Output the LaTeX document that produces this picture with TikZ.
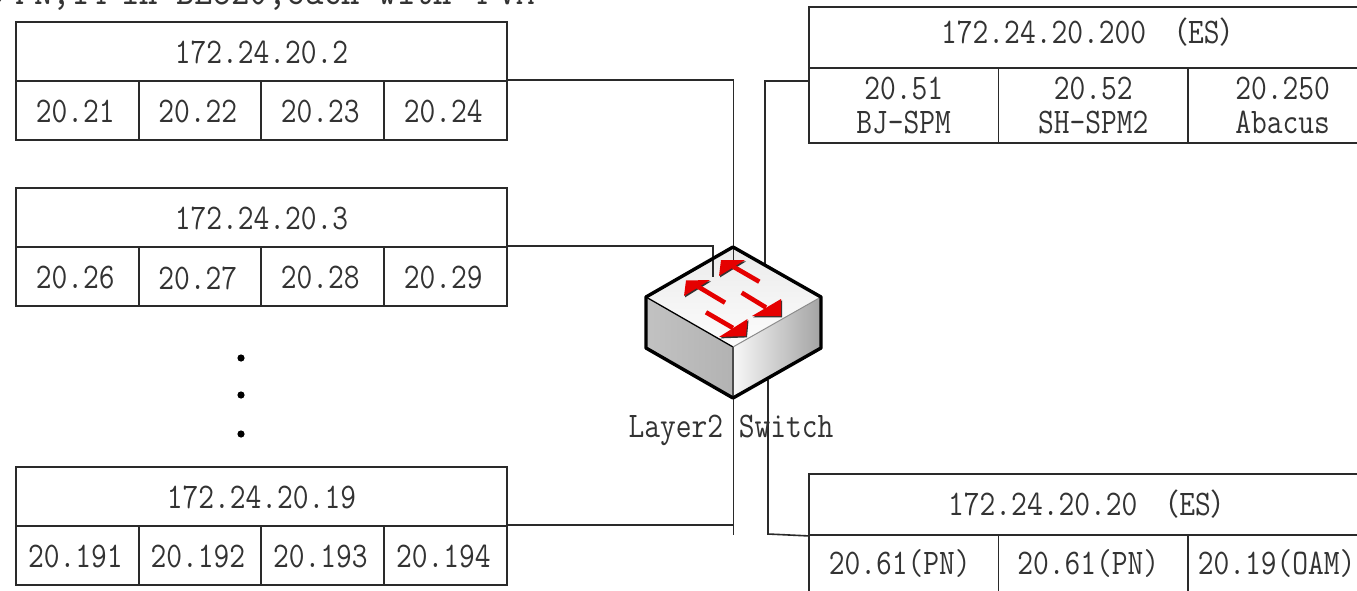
\documentclass[tikz,border=0pt]{standalone}
\usepackage{fontspec}
\newfontfamily\simf[FakeStretch=0.85]{Latin Modern Mono}
\newfontfamily\cjkf{Noto Sans CJK SC}
\usetikzlibrary{calc}
\definecolor{boxline}{HTML}{2A2A2A}
\newcommand{\wparen}[1]{{\cjkf\fontsize{30}{30}\selectfont #1}}
\newcommand{\swarr}[5]{% tail, base a, base b, tip, neck
  \fill[black!80] ($#2+(1,1.4)$) -- ($#3+(1,1.4)$) -- ($#4+(1,1.4)$) -- cycle;
  \draw[arrowshaft] #1 -- #5;
  \fill[arrowred] #2 -- #3 -- #4 -- cycle;
}
\tikzset{
  conn/.style={draw=boxline,line width=1.6pt},
  lab/.style={font=\simf\fontsize{36}{40}\selectfont,text=black!80,inner sep=0pt,anchor=center},
  cellbox/.style={draw=boxline,line width=1.9pt,inner sep=0pt,anchor=north west},
  arrowred/.style={fill=red!90!black},
  arrowshaft/.style={draw=red!90!black,line width=4.6pt}
}
\begin{document}
\begin{tikzpicture}[x=1pt,y=-1pt]
\useasboundingbox (0,0) rectangle (1357,591);
\begin{scope}
\clip (0,0) rectangle (1357,591);
\fill[white] (0,0) rectangle (1357,591);
\node[anchor=base west,inner sep=0pt,font=\simf\fontsize{42}{44}\selectfont,text=black!80] (caption) at (-13,5) {9\hspace{-8pt} PN,14\hspace{-5pt} in BL520,each with 4\hspace{-9pt} VM};

% left tables
\foreach \nm/\y/\ti/\a/\b/\c/\d in {t/21/172.24.20.2/20.21/20.22/20.23/20.24,
 u/187/172.24.20.3/20.26/20.27/20.28/20.29,
 v/466/172.24.20.19/20.191/20.192/20.193/20.194}{
  \node[cellbox,minimum width=491pt,minimum height=59pt] (\nm h) at (15,\y) {};
  \node[lab] at ($(\nm h.center)+(0,1)$) {\ti};
  \foreach \k/\xa/\tx in {1/15/\a,2/137.5/\b,3/260/\c,4/383/\d}{
    \node[cellbox,minimum width=122.75pt,minimum height=59pt] (\nm\k) at (\xa,\y+59) {};
    \node[lab] at ($(\nm\k.center)+(-2,1.5)$) {\tx};
  }
}
\fill (241,358) circle (3.6pt) coordinate (d1);
\fill (241,395) circle (3.6pt) coordinate (d2);
\fill (241,434) circle (3.6pt) coordinate (d3);

% right tables
\node[cellbox,minimum width=570pt,minimum height=61pt] (eh) at (808,6) {};
\node[lab,anchor=west] at (941,32) {172.24.20.200\hspace{12pt}\wparen{（}ES\wparen{）}};
\foreach \k/\xa/\tx/\ty in {1/808/20.51/BJ-SPM,2/997.5/20.52/SH-SPM2,3/1187/20.250/Abacus}{
  \node[cellbox,minimum width=189.5pt,minimum height=75pt] (e\k) at (\xa,67) {};
  \node[lab] at ($(e\k.center)+(0,-17)$) {\tx};
  \node[lab] at ($(e\k.center)+(0,17)$) {\ty};
}
\node[cellbox,minimum width=570pt,minimum height=61pt] (fh) at (808,473) {};
\node[lab,anchor=west] at (948,504) {172.24.20.20\hspace{12pt}\wparen{（}ES\wparen{）}};
\foreach \k/\xa/\tx/\dx in {1/808/{20.61(PN)}/-4,2/997.5/{20.61(PN)}/-5,3/1187/{20.19(OAM)}/-6}{
  \node[cellbox,minimum width=189.5pt,minimum height=75pt] (f\k) at (\xa,534) {};
  \node[lab] at ($(f\k.north)+(\dx,29)$) {\tx};
}

% switch body
\coordinate (st) at (733,247);
\coordinate (sl) at (646,297);
\coordinate (sr) at (821,297);
\coordinate (sc) at (733,347);
\coordinate (slb) at (646,348);
\coordinate (srb) at (821,348);
\coordinate (sb) at (733,398);

\coordinate (c1) at (733.5,80);
\coordinate (c2) at (713,246);
\coordinate (c3) at (765,81);
\coordinate (c4) at (733.5,525);
\coordinate (c5) at (768,534);
\coordinate (c1e) at (733.5,262);
\coordinate (c2e) at (713,277);
\coordinate (c3e) at (765,265);
\coordinate (c4s) at (733.5,398);
\coordinate (c4e) at (733.5,535);
\coordinate (c5s) at (768,380);

\shade[left color=black!24,middle color=black!10,right color=black!30] (sl) -- (sc) -- (sb) -- (slb) -- cycle;
\shade[left color=black!3,right color=black!36] (sc) -- (sr) -- (srb) -- (sb) -- cycle;
\shade[top color=black!8,bottom color=black!1] (st) -- (sr) -- (sc) -- (sl) -- cycle;
\draw[black,line width=1.3pt] (sl) -- (sc);
\draw[black!45,line width=1pt] (sc) -- (sr);
\draw[black!70,line width=1.4pt] (sc) -- (sb);

\draw[conn] (t4.east |- 0,80) -- (c1) -- (c1e);
\draw[conn] (u4.east |- 0,246) -- (c2) -- (c2e);
\draw[conn] (e1.west |- 0,81) -- (c3) -- (c3e);
\draw[conn] (v4.east |- 0,525) -- (c4) (c4s) -- (c4e);
\draw[conn] (fh.south west) -- (c5) -- (c5s);

\draw[black,line width=3.4pt,line join=round] (st) -- (sr) -- (srb) -- (sb) -- (slb) -- (sl) -- cycle;

% arrows on the switch
\swarr{(759.3,281.7)}{(719,276)}{(745,260)}{(721,260)}{(733,266.5)}
\swarr{(725,302.7)}{(684,296)}{(710,280)}{(686,280.5)}{(697,286)}
\swarr{(741.7,292.7)}{(752,316)}{(781,299)}{(781,316)}{(766,307.5)}
\swarr{(706,312.3)}{(719,337)}{(747.5,319)}{(746,336)}{(733,328)}

\node[lab] (swlabel) at (731,430) {Layer2 Switch};
\end{scope}
\end{tikzpicture}
\end{document}
